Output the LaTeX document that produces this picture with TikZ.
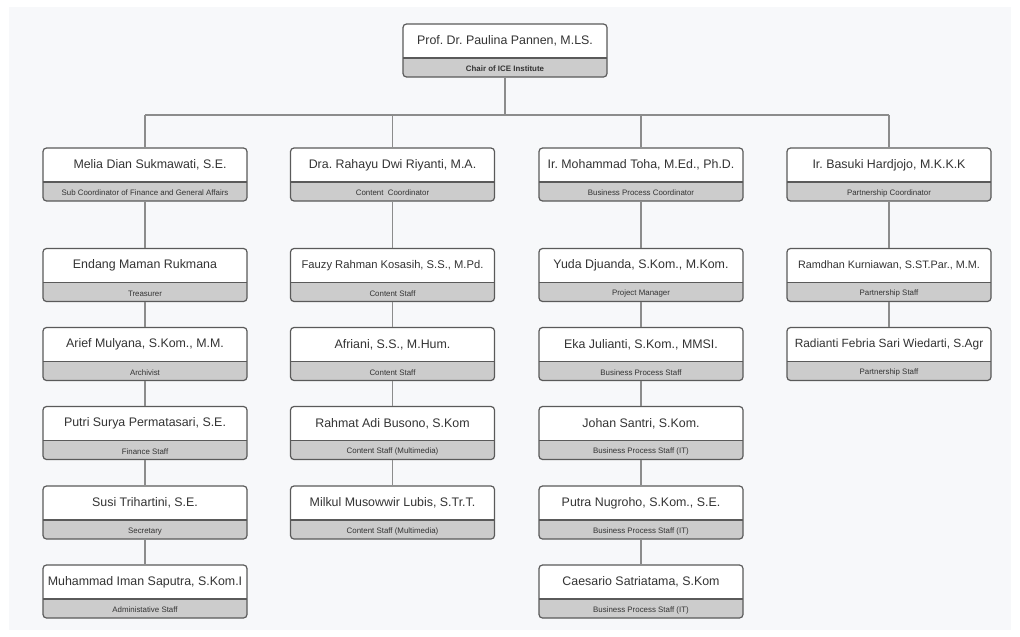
\documentclass[tikz,border=0pt]{standalone}
\usepackage{fontspec}
\setmainfont{Liberation Sans}
\usetikzlibrary{calc}
\frenchspacing
\definecolor{bg}{HTML}{F7F8FA}
\definecolor{band}{HTML}{CCCCCC}
\definecolor{edge}{HTML}{5A5A5A}
\definecolor{wire}{HTML}{8C8C8C}
\definecolor{ink}{HTML}{333333}
\tikzset{
  card/.style={draw=edge, line width=1.2pt, fill=band, rounded corners=3.5pt,
    minimum width=204pt, minimum height=53pt, inner sep=0pt,
    path picture={
      \fill[white, sharp corners] (path picture bounding box.north west) rectangle ($(path picture bounding box.north east)+(0,34)$);
      \draw[edge, line width=1.2pt, sharp corners] ($(path picture bounding box.north west)+(0,34)$) -- ($(path picture bounding box.north east)+(0,34)$);
    }},
  person/.style={text=ink, inner sep=0pt},
  role/.style={text=ink, inner sep=0pt, font=\fontsize{7.9}{9}\selectfont},
  wirestyle/.style={draw=wire, line width=1.2pt}
}
\newcommand{\orgbox}[6][12.4]{%
  \node[card] (#2) at (#3,#4+26.5) {};
  \node[person, font=\fontsize{#1}{#1}\selectfont\frenchspacing] (#2-n) at ($(#2.north)+(0,17.5)$) {#5};
  \node[role] (#2-r) at ($(#2.south)+(0,-8.5)$) {#6};
}
\begin{document}
\begin{tikzpicture}[x=1pt, y=-1pt]
\useasboundingbox (0,0) rectangle (1020,637);
\fill[bg] (9,7) rectangle (1011,630);

% top
\orgbox{chair}{505}{24}{Prof. Dr. Paulina Pannen, M.LS.}{\bfseries Chair of ICE Institute}

% level 1
\orgbox{a0}{145}{148}{\hspace*{10pt}Melia Dian Sukmawati, S.E.}{Sub Coordinator of Finance and General Affairs}
\orgbox{b0}{392.5}{148}{Dra. Rahayu Dwi Riyanti, M.A.}{Content~ Coordinator}
\orgbox{c0}{641}{148}{Ir. Mohammad Toha, M.Ed., Ph.D.}{Business Process Coordinator}
\orgbox{d0}{889}{148}{Ir. Basuki Hardjojo, M.K.K.K}{Partnership Coordinator}

% column a
\orgbox{a1}{145}{248.5}{Endang Maman Rukmana}{Treasurer}
\orgbox{a2}{145}{327.5}{Arief Mulyana, S.Kom., M.M.}{Archivist}
\orgbox{a3}{145}{406.5}{Putri Surya Permatasari, S.E.}{Finance Staff}
\orgbox{a4}{145}{486}{Susi Trihartini, S.E.}{Secretary}
\orgbox{a5}{145}{565}{Muhammad Iman Saputra, S.Kom.I}{Administative Staff}

% column b
\orgbox[11.2]{b1}{392.5}{248.5}{Fauzy Rahman Kosasih, S.S., M.Pd.}{Content Staff}
\orgbox{b2}{392.5}{327.5}{Afriani, S.S., M.Hum.}{Content Staff}
\orgbox{b3}{392.5}{406.5}{Rahmat Adi Busono, S.Kom}{Content Staff (Multimedia)}
\orgbox{b4}{392.5}{486}{Milkul Musowwir Lubis, S.Tr.T.}{Content Staff (Multimedia)}

% column c
\orgbox{c1}{641}{248.5}{Yuda Djuanda, S.Kom., M.Kom.}{Project Manager}
\orgbox{c2}{641}{327.5}{Eka Julianti, S.Kom., MMSI.}{Business Process Staff}
\orgbox{c3}{641}{406.5}{Johan Santri, S.Kom.}{Business Process Staff (IT)}
\orgbox{c4}{641}{486}{Putra Nugroho, S.Kom., S.E.}{Business Process Staff (IT)}
\orgbox{c5}{641}{565}{Caesario Satriatama, S.Kom}{Business Process Staff (IT)}

% column d
\orgbox[10.8]{d1}{889}{248.5}{Ramdhan Kurniawan, S.ST.Par., M.M.}{Partnership Staff}
\orgbox[11.9]{d2}{889}{327.5}{Radianti Febria Sari Wiedarti, S.Agr}{Partnership Staff}

% connectors
\coordinate (hub) at (505,115);
\draw[wirestyle] (chair.south) -- (hub);
\draw[wirestyle] (a0.north |- hub) -- (d0.north |- hub);
\foreach \n in {a0,b0,c0,d0} {\draw[wirestyle] (\n.north) -- (\n.north |- hub);}
\foreach \u/\v in {a0/a1,a1/a2,a2/a3,a3/a4,a4/a5,b0/b1,b1/b2,b2/b3,b3/b4,c0/c1,c1/c2,c2/c3,c3/c4,c4/c5,d0/d1,d1/d2} {
  \draw[wirestyle] (\u.south) -- (\v.north);
}
\end{tikzpicture}
\end{document}
